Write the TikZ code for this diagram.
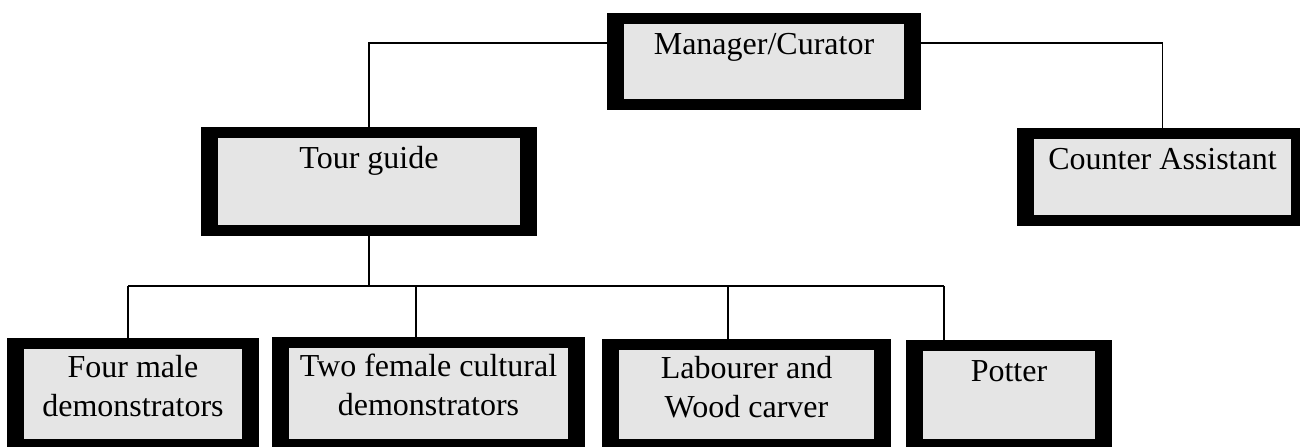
\documentclass[tikz,border=0pt]{standalone}
\usepackage{fontspec}
\setmainfont{Liberation Serif}
\definecolor{boxgray}{RGB}{229,229,229}
\begin{document}
\begin{tikzpicture}[x=0.5pt,y=-0.5pt,
  box/.style={rectangle, fill=black, inner sep=0pt,
    path picture={\fill[boxgray] ([xshift=8.5pt,yshift=-5.5pt]path picture bounding box.north west) rectangle ([xshift=-8.5pt,yshift=5.5pt]path picture bounding box.south east);}},
  lbl/.style={anchor=north, inner sep=0pt, align=center,
    font=\fontsize{16pt}{19.5pt}\selectfont, execute at begin node={\rule{0pt}{12pt}}},
  conn/.style={draw=black, line width=0.8pt}]
\useasboundingbox (0,0) rectangle (1300,446);
\clip (0,0) rectangle (1300,446);
% boxes
\node[box, minimum width=157pt, minimum height=48.5pt] (mgr) at (764,61.5) {};
\node[lbl] (mgrT) at ([yshift=-8.5pt]mgr.north) {Manager/Curator};
\node[box, minimum width=168pt, minimum height=54.5pt] (tg) at (369,181.5) {};
\node[lbl] (tgT) at ([yshift=-8.5pt]tg.north) {Tour guide};
\node[box, minimum width=145.5pt, minimum height=49pt] (ca) at (1162.5,177) {};
\node[lbl] (caT) at ([yshift=-8.5pt]ca.north) {Counter Assistant};
\node[box, minimum width=126pt, minimum height=56pt] (b1) at (133,394) {};
\node[lbl] (b1T) at ([yshift=-8.5pt]b1.north) {Four male\\demonstrators};
\node[box, minimum width=156.5pt, minimum height=56.5pt] (b2) at (428.5,393.5) {};
\node[lbl] (b2T) at ([yshift=-8.5pt]b2.north) {Two female cultural\\demonstrators};
\node[box, minimum width=144.5pt, minimum height=55.5pt] (b3) at (746.5,394.5) {};
\node[lbl] (b3T) at ([yshift=-8.5pt]b3.north) {Labourer and\\Wood carver};
\node[box, minimum width=103pt, minimum height=55pt] (b4) at (1009,395) {};
\node[lbl] (b4T) at ([yshift=-8.5pt]b4.north) {Potter};
% connectors
\coordinate (mgrY) at (0,43);
\coordinate (bus) at (369,286);
\coordinate (d1) at (128,286);
\coordinate (d2) at (416,286);
\coordinate (d3) at (728,286);
\coordinate (d4) at (944,286);
\draw[conn] (mgr.west |- mgrY) -| (tg.north);
\draw[conn] (mgr.east |- mgrY) -| (ca.north);
\draw[conn] (tg.south) -- (bus);
\draw[conn] (d1) -- (d4);
\draw[conn] (d1) -- (d1 |- b1.north);
\draw[conn] (d2) -- (d2 |- b2.north);
\draw[conn] (d3) -- (d3 |- b3.north);
\draw[conn] (d4) -- (d4 |- b4.north);
\end{tikzpicture}
\end{document}
